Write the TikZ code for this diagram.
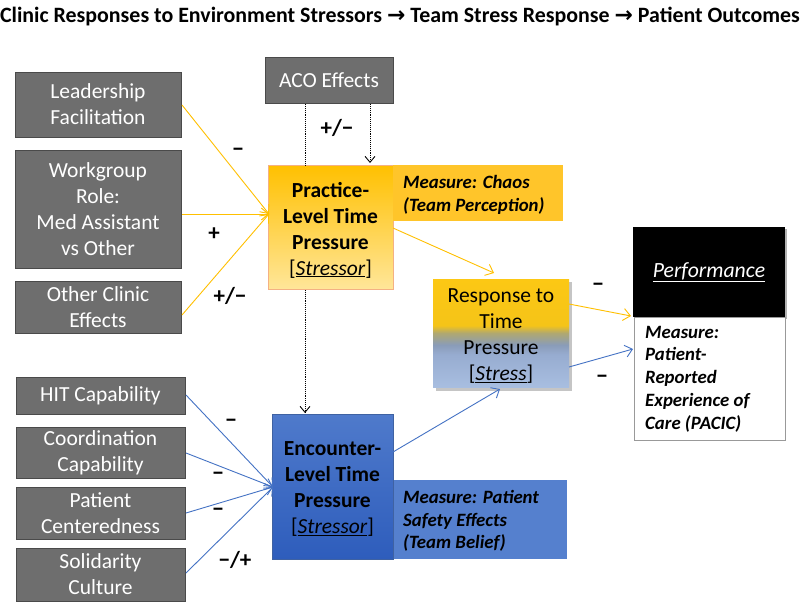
\documentclass[tikz,border=0pt]{standalone}
\usepackage{fontspec}
\setmainfont{Carlito}
\newfontfamily\arrowfont{DejaVu Sans}
\usetikzlibrary{arrows.meta,shadows}
\definecolor{graybox}{HTML}{6E6E6E}
\definecolor{grayedge}{HTML}{4A4A4A}
\definecolor{gold}{HTML}{FFC000}
\definecolor{goldbox}{HTML}{FFC52A}
\definecolor{paleyellow}{HTML}{FFE699}
\definecolor{orangeedge}{HTML}{F4B183}
\definecolor{blueline}{HTML}{4472C4}
\definecolor{bluetop}{HTML}{4F7ACB}
\definecolor{bluebot}{HTML}{2E5DBC}
\definecolor{bluemeas}{HTML}{5580CE}
\definecolor{rsA}{HTML}{A8BEE0}
\definecolor{rsB}{HTML}{97ACD0}
\definecolor{rsC}{HTML}{8A9CB8}
\definecolor{rsD}{HTML}{B0A870}
\definecolor{rsF}{HTML}{F5C418}
\definecolor{rsG}{HTML}{FCC814}
\pgfdeclareverticalshading{respshade}{100bp}{
  color(0bp)=(rsA); color(25bp)=(rsA); color(40bp)=(rsB);
  color(44.5bp)=(rsC); color(50bp)=(rsD); color(53.5bp)=(rsF);
  color(75bp)=(rsG); color(100bp)=(rsG)}
\tikzset{
  gbox/.style={draw=grayedge, fill=graybox, text=white, align=center, font=\fontsize{21.5}{26}\selectfont, inner sep=0pt, line width=0.8pt},
  lbl/.style={font=\fontsize{23}{26}\selectfont\bfseries, inner sep=0pt},
  meas/.style={font=\fontsize{18.8}{22.7}\selectfont\bfseries\itshape, align=left, inner sep=0pt},
  main/.style={align=center, font=\fontsize{21.5}{26}\selectfont, inner sep=0pt},
  yarr/.style={draw=gold, line width=0.9pt, -{Straight Barb[length=7pt,width=12pt]}},
  barr/.style={draw=blueline, line width=0.9pt, -{Straight Barb[length=7pt,width=12pt]}},
  darr/.style={draw=black, densely dotted, line width=0.9pt},
}
\begin{document}
\begin{tikzpicture}[x=1pt,y=-1pt]
\useasboundingbox (0,0) rectangle (800,602);
\fill[white] (0,0) rectangle (800,602);

% title
\node[font=\fontsize{21.9}{25}\selectfont\bfseries, inner sep=0pt] (title) at (400,17)
 {Clinic Responses to Environment Stressors {\arrowfont\bfseries →} Team Stress Response {\arrowfont\bfseries →} Patient Outcomes};

% left gray boxes
\draw[gbox] (15,72) rectangle (181,137);
\node[gbox, draw=none, fill=none] (lead) at (98,104.5) {Leadership\\Facilitation};
\draw[gbox] (15,150) rectangle (181,268);
\node[gbox, draw=none, fill=none] (work) at (98,209) {Workgroup\\Role:\\Med Assistant\\vs Other};
\draw[gbox] (15,281) rectangle (181,333);
\node[gbox, draw=none, fill=none] (other) at (98,307) {Other Clinic\\Effects};
\draw[gbox] (265,57) rectangle (393,103);
\node[gbox, draw=none, fill=none] (aco) at (329,80) {ACO Effects};

\draw[gbox] (16,377) rectangle (185,414);
\node[gbox, draw=none, fill=none] (hit) at (100.5,395.5) {HIT Capability};
\draw[gbox] (16,427) rectangle (185,478);
\node[gbox, draw=none, fill=none] (coord) at (100.5,452.5) {Coordination\\Capability};
\draw[gbox] (16,487) rectangle (185,539);
\node[gbox, draw=none, fill=none] (pat) at (100.5,513) {Patient\\Centeredness};
\draw[gbox] (16,548) rectangle (185,601);
\node[gbox, draw=none, fill=none] (sol) at (100.5,574.5) {Solidarity\\Culture};

% practice box
\draw[draw=orangeedge, line width=0.8pt, top color=gold, bottom color=paleyellow] (268,165) rectangle (393,289);
\fill[goldbox] (393,165) rectangle (563,221);
\node[main] (prac) at (330.5,230)
 {\bfseries Practice-\\\bfseries Level Time\\\bfseries Pressure\\{[}\underline{\itshape Stressor}{]}};
\node[meas, anchor=west] (chaos) at (403,195) {Measure: Chaos\\(Team Perception)};

% encounter box
\fill[bluemeas] (393,480) rectangle (567,559);
\draw[draw=bluetop!80!black, line width=0.5pt, top color=bluetop, bottom color=bluebot] (272,414) rectangle (393,559);
\node[main] (enc) at (332.5,489)
 {\bfseries Encounter-\\\bfseries Level Time\\\bfseries Pressure\\{[}\underline{\itshape Stressor}{]}};
\node[meas, anchor=west] (safe) at (403,521) {Measure: Patient\\Safety Effects\\(Team Belief)};

% response box
\fill[black!45, opacity=0.5] (436,282) rectangle (572,391);
\shade[shading=respshade] (433,279) rectangle (569,387);
\node[main] (resp) at (501,336)
 {Response to\\Time\\Pressure\\{[}\underline{\itshape Stress}{]}};

% performance boxes
\fill[black!30] (635,229) rectangle (787,319);
\fill[black] (633,227) rectangle (785,317);
\node[text=white, font=\fontsize{21.7}{24}\selectfont\itshape, inner sep=0pt] (perf) at (709,272) {\underline{Performance}};
\draw[black!40, line width=0.8pt, fill=white] (634,317) rectangle (785,440);
\node[meas, anchor=west] (pacic) at (645,379) {Measure:\\Patient-\\Reported\\Experience of\\Care (PACIC)};

% coordinates for connector ends
\coordinate (pin) at (269,214);
\coordinate (ein) at (273,487);
\coordinate (leadout) at (182,105);
\coordinate (workout) at (182,214);
\coordinate (otherout) at (182,315);
\coordinate (hitout) at (186,395);
\coordinate (coordout) at (186,453);
\coordinate (patout) at (186,513);
\coordinate (solout) at (186,573);
\coordinate (acoL) at (305,104);
\coordinate (acoLe) at (305,165);
\coordinate (acoR) at (370,104);
\coordinate (acoRe) at (370,163);
\coordinate (pracbot) at (305,290);
\coordinate (enctop) at (305,413);
\coordinate (pracout) at (393,228);
\coordinate (respin1) at (494,273);
\coordinate (respout1) at (569,304);
\coordinate (perfin) at (631,316);
\coordinate (respout2) at (569,367);
\coordinate (pacicin) at (633,349);
\coordinate (encout) at (393,452);
\coordinate (respin2) at (500,389);

% yellow arrows
\draw[yarr] (leadout) -- (pin);
\draw[yarr] (workout) -- (pin);
\draw[yarr] (otherout) -- (pin);
\draw[yarr] (pracout) -- (respin1);
\draw[yarr] (respout1) -- (perfin);

% blue arrows
\draw[barr] (hitout) -- (ein);
\draw[barr] (coordout) -- (ein);
\draw[barr] (patout) -- (ein);
\draw[barr] (solout) -- (ein);
\draw[barr] (encout) -- (respin2);
\draw[barr] (respout2) -- (pacicin);

% dotted
\draw[darr] (acoL) -- (acoLe);
\draw[darr, -{Straight Barb[length=6pt,width=10pt]}] (acoR) -- (acoRe);
\draw[darr, -{Straight Barb[length=6pt,width=10pt]}] (pracbot) -- (enctop);

% labels
\node[lbl] (l1) at (238,152) {−};
\node[lbl] (l2) at (214,234) {+};
\node[lbl] (l3) at (230,296) {+/−};
\node[lbl] (l4) at (337,128) {+/−};
\node[lbl] (l5) at (598,287) {−};
\node[lbl] (l6) at (602,379) {−};
\node[lbl] (l7) at (231,423) {−};
\node[lbl] (l8) at (218,476) {−};
\node[lbl] (l9) at (218,512) {−};
\node[lbl] (l10) at (235,560) {−/+};
\end{tikzpicture}
\end{document}
